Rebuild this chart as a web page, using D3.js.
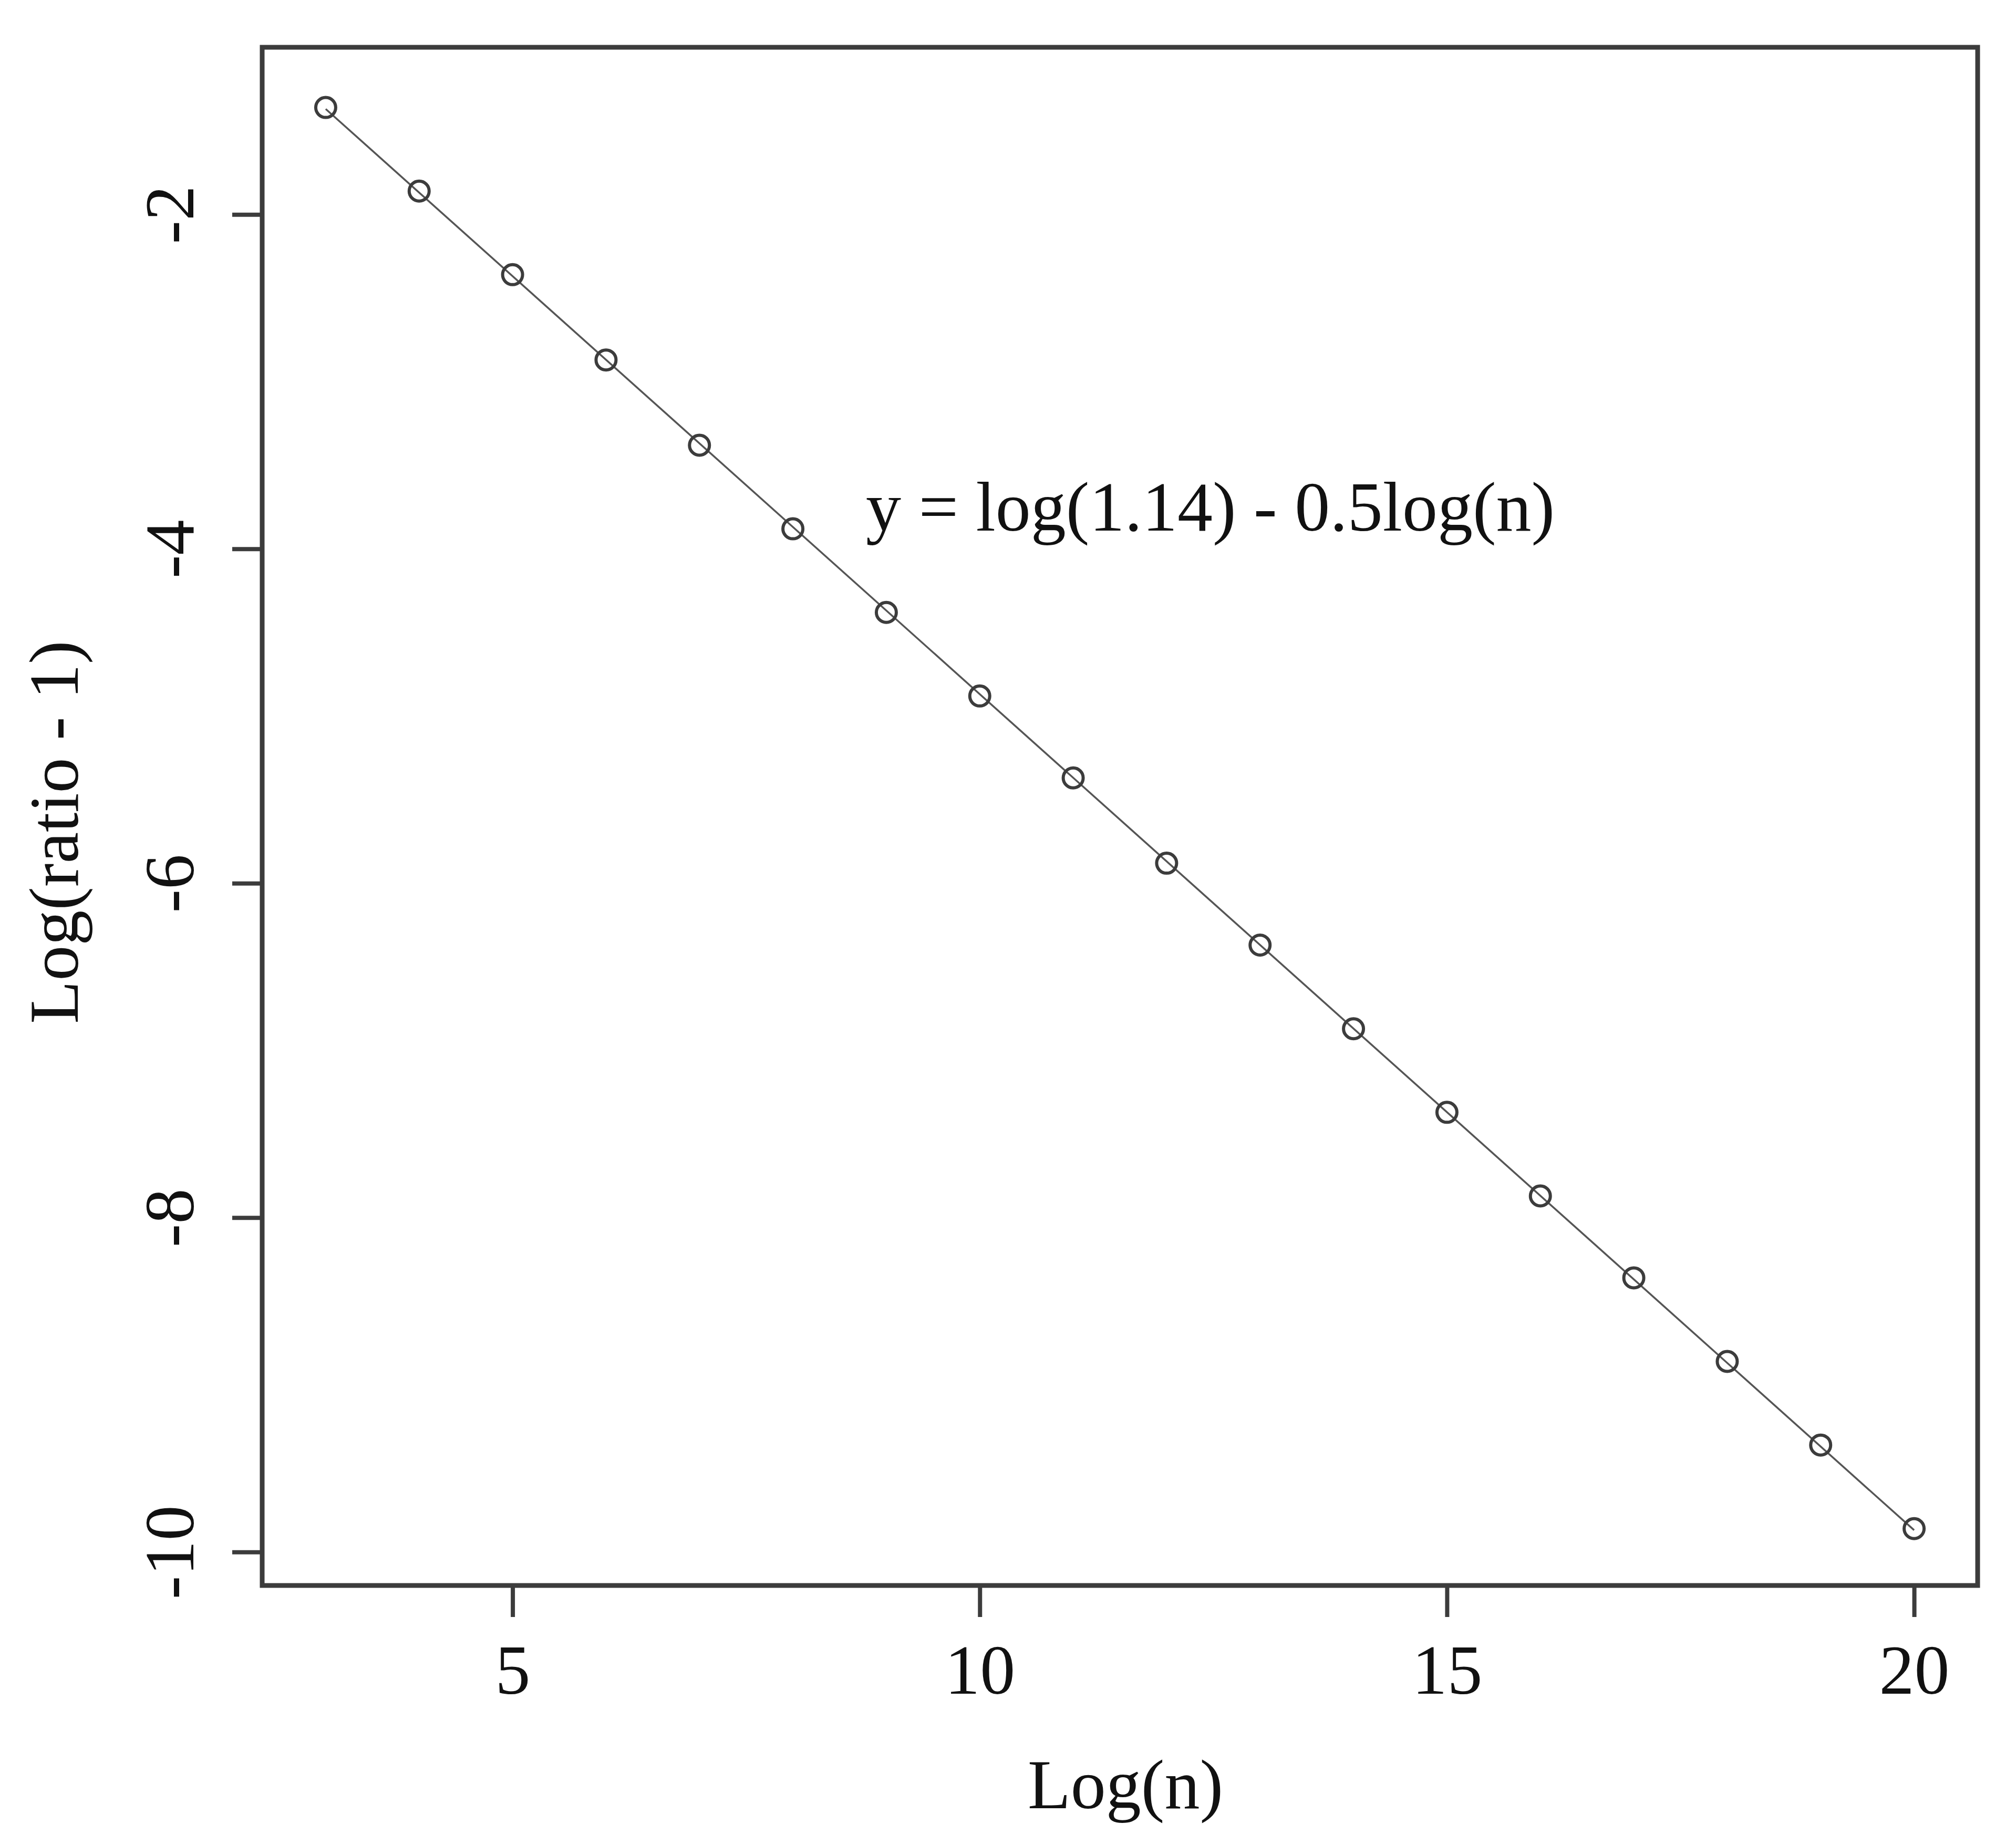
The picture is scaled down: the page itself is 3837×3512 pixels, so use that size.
<!DOCTYPE html>
<html>
<head>
<meta charset="utf-8">
<script src="https://cdn.jsdelivr.net/npm/d3@7"></script>
<style>
  html, body { margin: 0; padding: 0; background: #fff; }
  svg { display: block; }
</style>
</head>
<body>
<script>
// ---- data ----
const logN = [3, 4, 5, 6, 7, 8, 9, 10, 11, 12, 13, 14, 15, 16, 17, 18, 19, 20];
const logRatioMinus1 = [-1.36, -1.86, -2.36, -2.87, -3.38, -3.88, -4.38, -4.88, -5.37,
                        -5.88, -6.37, -6.87, -7.37, -7.87, -8.36, -8.86, -9.36, -9.86];
const fitIntercept = 0.131;   // log(1.14)
const fitSlope = -0.5;
const xTicks = [5, 10, 15, 20];
const yTicks = [-2, -4, -6, -8, -10];
const xLabel = "Log(n)";
const yLabel = "Log(ratio - 1)";
const annotation = "y = log(1.14) - 0.5log(n)";

// ---- layout ----
const W = 3837, H = 3512;
const mLeft = 499, mRight = 3764, mTop = 90, mBottom = 3018;
const FONT = "'Liberation Serif', 'Times New Roman', serif";
const FS = 134;
const ink = "#3c3c3c";

const svg = d3.select("body").append("svg")
  .attr("width", W).attr("height", H)
  .style("background", "#fff");

const x = d3.scaleLinear().domain([2.32, 20.68]).range([mLeft, mRight]);
const y = d3.scaleLinear().domain([-10.2, -1.0]).range([mBottom, mTop]);

// fitted line
const fitData = [logN[0], logN[logN.length - 1]].map(v => ({x: v, y: fitIntercept + fitSlope * v}));
svg.append("path")
  .datum(fitData)
  .attr("fill", "none")
  .attr("stroke", "#555")
  .attr("stroke-width", 3.5)
  .attr("d", d3.line().x(d => x(d.x)).y(d => y(d.y)));

// points
svg.append("g").selectAll("circle")
  .data(logN.map((v, i) => ({x: v, y: logRatioMinus1[i]})))
  .join("circle")
  .attr("cx", d => x(d.x))
  .attr("cy", d => y(d.y))
  .attr("r", 19)
  .attr("fill", "none")
  .attr("stroke", ink)
  .attr("stroke-width", 6);

// axes
const xAxis = svg.append("g")
  .attr("transform", `translate(0,${mBottom})`)
  .call(d3.axisBottom(x).tickValues(xTicks).tickSize(60).tickFormat(d3.format("d")));
xAxis.select(".domain").remove();
xAxis.selectAll(".tick line").attr("stroke", ink).attr("stroke-width", 8);
xAxis.selectAll(".tick text")
  .attr("y", 206).attr("dy", 0)
  .attr("fill", "#111")
  .style("font-family", FONT).style("font-size", FS + "px");

const yAxis = svg.append("g")
  .attr("transform", `translate(${mLeft},0)`)
  .call(d3.axisLeft(y).tickValues(yTicks).tickSize(57).tickFormat(d => String(d)));
yAxis.select(".domain").remove();
yAxis.selectAll(".tick line").attr("stroke", ink).attr("stroke-width", 8);
yAxis.selectAll(".tick text")
  .attr("x", 0).attr("dy", 0)
  .attr("text-anchor", "middle")
  .attr("transform", "translate(-131,0) rotate(-90)")
  .attr("fill", "#111")
  .style("font-family", FONT).style("font-size", FS + "px");

// box
svg.append("rect")
  .attr("x", mLeft).attr("y", mTop)
  .attr("width", mRight - mLeft).attr("height", mBottom - mTop)
  .attr("fill", "none")
  .attr("stroke", ink)
  .attr("stroke-width", 9);

// axis titles
svg.append("text")
  .attr("x", 2142).attr("y", 3442)
  .attr("text-anchor", "middle")
  .attr("fill", "#111")
  .style("font-family", FONT).style("font-size", FS + "px")
  .text(xLabel);

svg.append("text")
  .attr("transform", "translate(148,1584) rotate(-90)")
  .attr("text-anchor", "middle")
  .attr("fill", "#111")
  .style("font-family", FONT).style("font-size", FS + "px")
  .text(yLabel);

// annotation
svg.append("text")
  .attr("x", 1648).attr("y", 1010)
  .attr("text-anchor", "start")
  .attr("fill", "#111")
  .style("font-family", FONT).style("font-size", FS + "px")
  .text(annotation);
</script>
</body>
</html>
